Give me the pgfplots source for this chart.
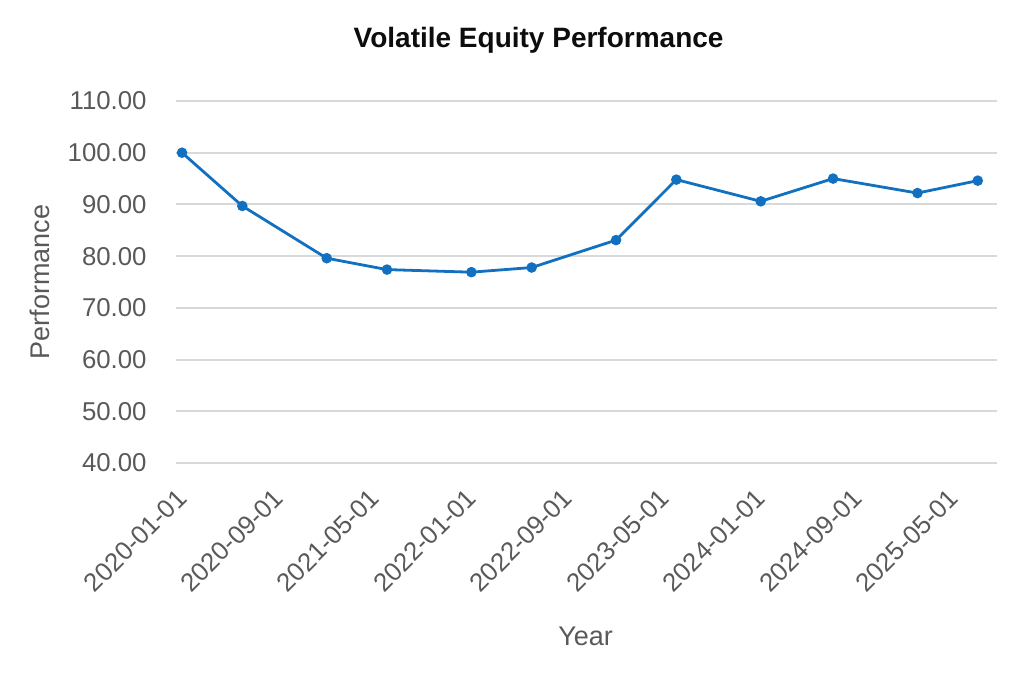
\documentclass[border=0pt]{standalone}
\usepackage{fontspec}
\setmainfont{Liberation Sans}
\usepackage{pgfplots}
\pgfplotsset{compat=1.18}
\definecolor{lineblue}{RGB}{17,112,192}
\definecolor{tickgray}{RGB}{89,89,89}
\definecolor{gridgray}{RGB}{217,217,217}
\begin{document}
\begin{tikzpicture}[x=1bp,y=1bp]
\useasboundingbox (0,0) rectangle (512,337);
\begin{axis}[
    at={(88bp,105.5bp)}, anchor=south west,
    scale only axis, width=410.5bp, height=181bp,
    xmin=-0.5, xmax=67.6,
    ymin=40, ymax=110,
    ytick={40,50,...,110},
    xtick={0,8,...,64},
    xticklabels={2020-01-01,2020-09-01,2021-05-01,2022-01-01,2022-09-01,2023-05-01,2024-01-01,2024-09-01,2025-05-01},
    axis line style={draw=none},
    major tick length=0pt,
    ymajorgrids, grid style={gridgray, line width=1bp},
    /pgf/number format/assume math mode=true,
    yticklabel={\pgfmathprintnumber[fixed,fixed zerofill,precision=2]{\tick}},
    ticklabel style={font=\fontsize{12.9bp}{15bp}\selectfont, text=tickgray},
    yticklabel style={anchor=east, inner sep=0pt, xshift=-14.5bp},
    xticklabel style={rotate=45, anchor=north east, inner sep=0pt, xshift=-10.7bp, yshift=-6.1bp},
    xlabel={Year}, ylabel={Performance},
    label style={font=\fontsize{13.5bp}{16bp}\selectfont, text=tickgray},
    xlabel style={at={(axis description cs:0.499,-0.505)}, anchor=base},
    ylabel style={at={(axis description cs:-0.1535,0.5)}, anchor=base, rotate=0},
    clip=false,
]
\addplot[lineblue, line width=1.4bp, mark=*, mark size=1.9bp] coordinates {
    (0,100.0)
    (5,89.7)
    (12,79.6)
    (17,77.4)
    (24,76.9)
    (29,77.8)
    (36,83.1)
    (41,94.8)
    (48,90.6)
    (54,95.0)
    (61,92.2)
    (66,94.6)
};
\end{axis}
\node[anchor=base, font=\fontsize{14bp}{17bp}\selectfont\bfseries, text={rgb,255:red,13;green,13;blue,13}] at (269.3bp,313bp) {Volatile Equity Performance};
\end{tikzpicture}
\end{document}
